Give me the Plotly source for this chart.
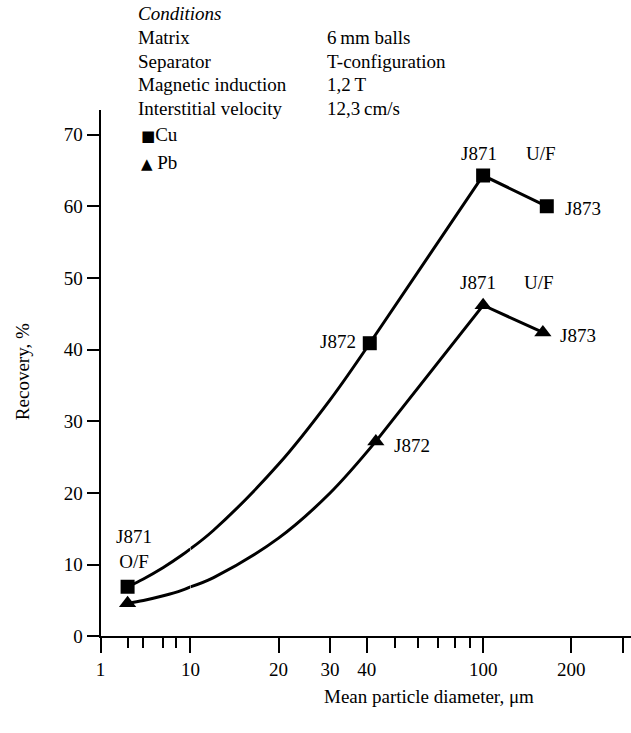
import math
import plotly.graph_objects as go

# ---- data -------------------------------------------------------------
# Mean particle diameter (um) and recovery (%) for each sample
cu_diam = [2, 41, 100, 165]
cu_recovery = [6.9, 40.9, 64.3, 60.0]
pb_diam = [2, 43, 100, 160]
pb_recovery = [4.6, 27.2, 46.2, 42.4]
sample_names = ["J871", "J872", "J871", "J873"]
fraction_names = ["O/F", "", "U/F", ""]

# Drawn trend curve between the overflow and the J872 sample
cu_curve_fine_x = [2, 3, 5, 8, 10]
cu_curve_fine_y = [6.9, 8.0, 9.6, 11.3, 12.2]
cu_curve_x = [10, 12, 20, 30, 41]
cu_curve_y = [12.2, 14.8, 24.0, 33.0, 40.9]
pb_curve_fine_x = [2, 3, 5, 8, 10]
pb_curve_fine_y = [4.6, 5.0, 5.65, 6.4, 6.9]
pb_curve_x = [10, 12, 20, 30, 43]
pb_curve_y = [6.9, 8.2, 13.7, 20.0, 27.2]

# Axis ticks
y_ticks = [0, 10, 20, 30, 40, 50, 60, 70]
fine_ticks = [1]
fine_minor = [2, 3, 5, 7]
coarse_ticks = [10, 20, 30, 40, 100, 200, 300]
coarse_text = ["10", "20", "30", "40", "100", "200", ""]
coarse_minor = [50, 60, 70, 80, 90]

condition_names = ["Matrix", "Separator", "Magnetic induction", "Interstitial velocity"]
condition_values = ["6\u2009mm balls", "T-configuration", "1,2\u2009T", "12,3\u2009cm/s"]

# ---- layout geometry --------------------------------------------------
W, H = 631, 733
FONT = "Liberation Serif"
FS = 19
x_left, x_mid = 92, 183.3
y_bottom, y_top = 646, 112
y_max = 73.4


def px(x):
    return x / W


def py(y):
    return (H - y) / H


fig = go.Figure()

line_style = dict(color="black", width=3)

# trend curves (spline) in the compressed 1-10 decade and the main decades
for cx, cy in [(cu_curve_fine_x, cu_curve_fine_y), (pb_curve_fine_x, pb_curve_fine_y)]:
    fig.add_trace(go.Scatter(x=cx, y=cy, xaxis="x", yaxis="y", mode="lines",
                             line=dict(shape="spline", **line_style),
                             showlegend=False, hoverinfo="skip"))
for cx, cy in [(cu_curve_x, cu_curve_y), (pb_curve_x, pb_curve_y)]:
    fig.add_trace(go.Scatter(x=cx, y=cy, xaxis="x2", yaxis="y", mode="lines",
                             line=dict(shape="spline", **line_style),
                             showlegend=False, hoverinfo="skip"))

# straight segments J872 -> J871 U/F -> J873
for dx, ry in [(cu_diam, cu_recovery), (pb_diam, pb_recovery)]:
    fig.add_trace(go.Scatter(x=dx[1:], y=ry[1:], xaxis="x2", yaxis="y", mode="lines",
                             line=line_style, showlegend=False, hoverinfo="skip"))

# sample markers
for dx, ry, sym, size in [(cu_diam, cu_recovery, "square", 14),
                          (pb_diam, pb_recovery, "triangle-up", 15)]:
    fig.add_trace(go.Scatter(x=dx[:1], y=ry[:1], xaxis="x", yaxis="y", mode="markers",
                             marker=dict(symbol=sym, size=size, color="black"),
                             showlegend=False))
    fig.add_trace(go.Scatter(x=dx[1:], y=ry[1:], xaxis="x2", yaxis="y", mode="markers",
                             marker=dict(symbol=sym, size=size, color="black"),
                             showlegend=False))

annotations = []
tfont = dict(family=FONT, size=FS, color="black")


def label(xval, yval, text, xaxis, xanchor="center", xshift=0, yshift=0):
    annotations.append(dict(x=math.log10(xval), y=yval, xref=xaxis, yref="y",
                            text=text, showarrow=False, font=tfont,
                            xanchor=xanchor, yanchor="middle",
                            xshift=xshift, yshift=yshift))


# sample labels
label(cu_diam[0], cu_recovery[0], sample_names[0] + "<br>" + fraction_names[0], "x",
      xshift=6, yshift=38)
label(cu_diam[1], cu_recovery[1], sample_names[1], "x2", "right", -12, 2)
label(pb_diam[1], pb_recovery[1], sample_names[1], "x2", "left", 16, -4)
label(cu_diam[2], cu_recovery[2], sample_names[2], "x2", "center", -4, 22)
label(cu_diam[2], cu_recovery[2], fraction_names[2], "x2", "center", 58, 22)
label(pb_diam[2], pb_recovery[2], sample_names[2], "x2", "center", -5, 23)
label(pb_diam[2], pb_recovery[2], fraction_names[2], "x2", "center", 56, 23)
label(cu_diam[3], cu_recovery[3], sample_names[3], "x2", "left", 16, -2)
label(pb_diam[3], pb_recovery[3], sample_names[3], "x2", "left", 15, -3)


def paper_text(x, y, text, xanchor="left", angle=0):
    annotations.append(dict(x=px(x), y=py(y), xref="paper", yref="paper",
                            text=text, showarrow=False, font=tfont,
                            xanchor=xanchor, yanchor="middle", textangle=angle))


# conditions block
paper_text(128, 14, "<i>Conditions</i>")
for i, (name, value) in enumerate(zip(condition_names, condition_values)):
    paper_text(128, 38 + 24 * i, name)
    paper_text(320, 38 + 24 * i, value)

# key
paper_text(131, 137, "<span style='font-family:DejaVu Sans;font-size:15px'>\u25A0</span>Cu")
paper_text(131, 165, "<span style='font-family:DejaVu Sans;font-size:15px'>\u25B2</span> Pb")

# axis titles
paper_text(426, 707, "Mean particle diameter, \u03bcm", xanchor="center")
paper_text(13, 377, "Recovery, %", xanchor="center", angle=-90)

axis_common = dict(showline=True, linewidth=2, linecolor="black", showgrid=False,
                   zeroline=False, ticks="outside", tickwidth=2, tickcolor="black",
                   tickfont=tfont)

fig.update_layout(
    width=W, height=H,
    margin=dict(l=0, r=0, t=0, b=0),
    paper_bgcolor="white", plot_bgcolor="white",
    showlegend=False,
    font=tfont,
    xaxis=dict(type="log", range=[0, 1], domain=[px(x_left), px(x_mid)], anchor="y",
               tickmode="array", tickvals=fine_ticks, ticktext=[str(v) for v in fine_ticks],
               ticklen=15,
               minor=dict(tickmode="array", tickvals=fine_minor, ticks="outside",
                          ticklen=10, tickwidth=2, tickcolor="black", showgrid=False),
               **axis_common),
    xaxis2=dict(type="log", range=[1, math.log10(320)], domain=[px(x_mid), 1], anchor="y",
                tickmode="array", tickvals=coarse_ticks, ticktext=coarse_text,
                ticklen=15,
                minor=dict(tickmode="array", tickvals=coarse_minor, ticks="outside",
                           ticklen=10, tickwidth=2, tickcolor="black", showgrid=False),
                **axis_common),
    yaxis=dict(range=[0, y_max], domain=[py(y_bottom), py(y_top)], anchor="x",
               tickmode="array", tickvals=y_ticks, ticklen=12, **axis_common),
    annotations=annotations,
)

fig.write_html("out.html")
